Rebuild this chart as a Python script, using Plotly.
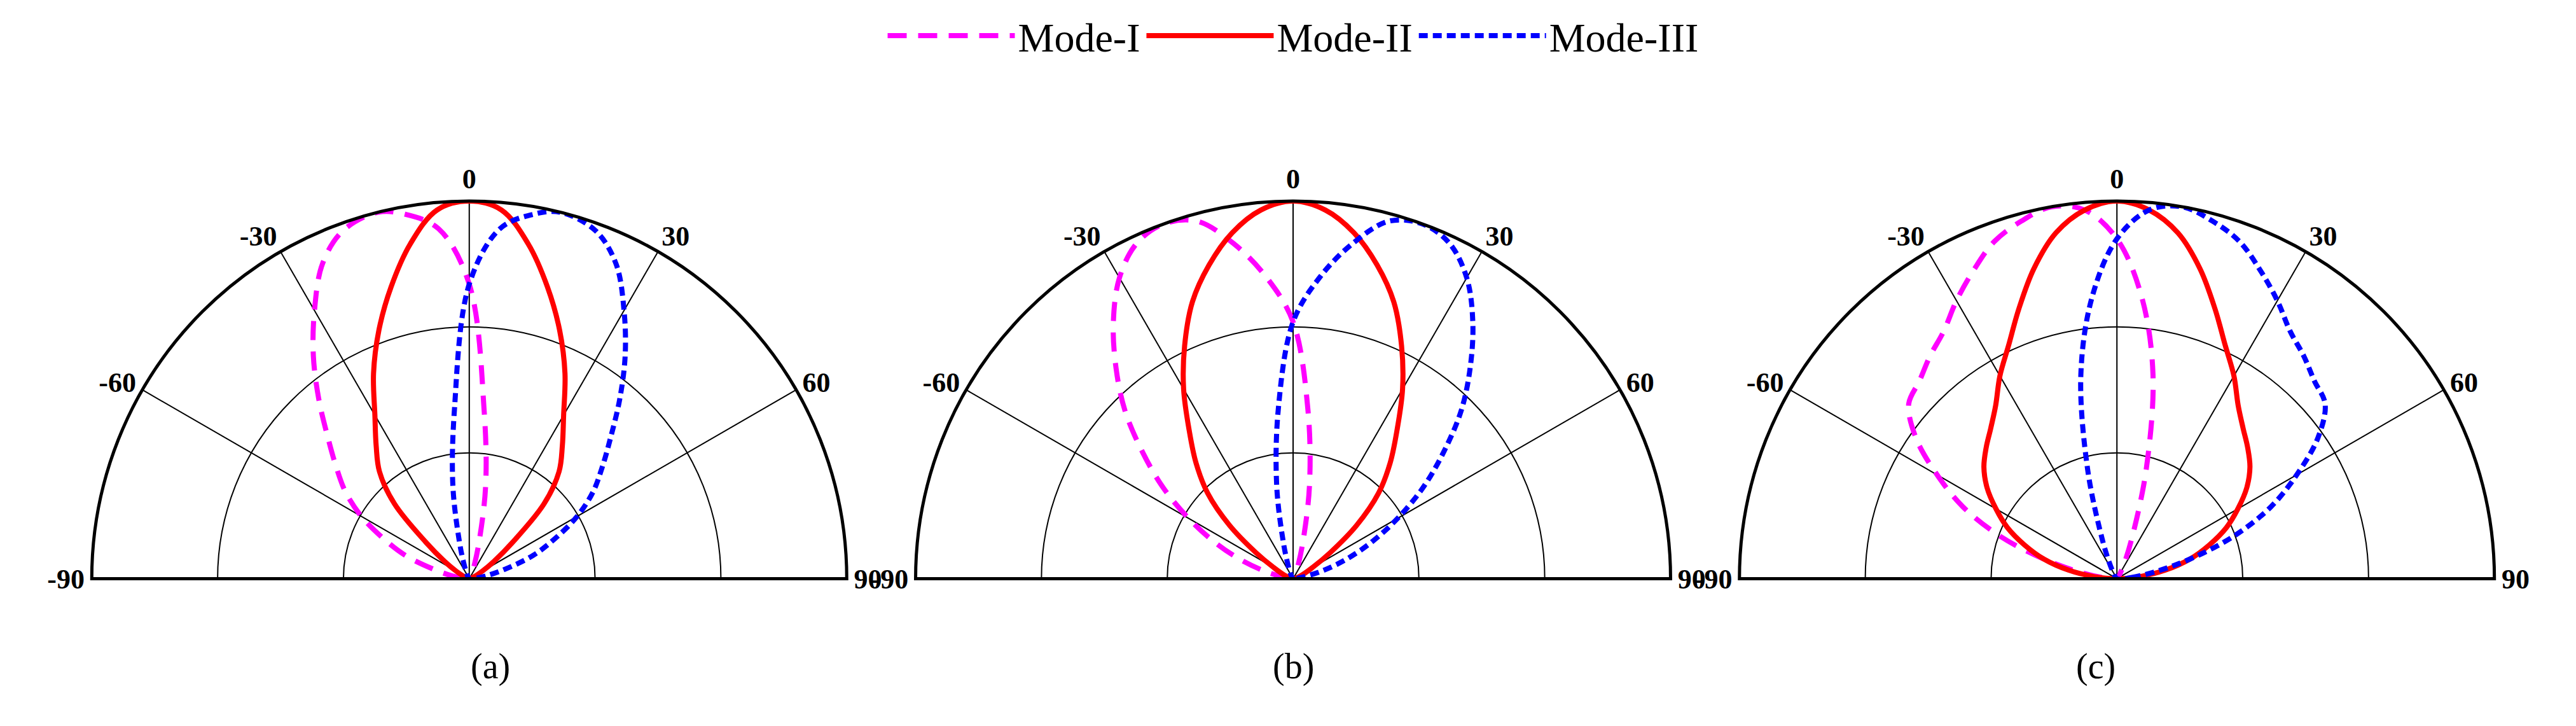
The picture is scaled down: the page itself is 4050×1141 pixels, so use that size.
import plotly.graph_objects as go

# Angles (deg) for each series
ang_a1 = [-85,-80,-75,-70,-65,-60,-55,-50,-45,-40,-35,-30,-25,-20,-14,-10,-5,0,5,10,15,20,30,40]
r_a1   = [0.02,0.05,0.1,0.18,0.25,0.33,0.4,0.46,0.53,0.62,0.72,0.82,0.92,0.98,1.0,0.98,0.93,0.78,0.45,0.25,0.1,0.04,0.01,0.0]
ang_a2 = [-90,-70,-60,-55,-50,-45,-40,-35,-30,-25,-20,-15,-10,-5,0,5,10,15,20,25,30,35,40,45,50,55,60,70,90]
r_a2   = [0.0,0.01,0.04,0.08,0.15,0.28,0.37,0.43,0.5,0.6,0.7,0.8,0.9,0.98,1.0,0.98,0.9,0.8,0.7,0.6,0.5,0.43,0.37,0.28,0.15,0.08,0.04,0.01,0.0]

ang_b1 = [-85,-80,-75,-70,-65,-60,-55,-50,-45,-40,-35,-30,-25,-20,-15,-10,-5,0,5,10,15,20,30,40]
r_b1   = [0.01,0.03,0.08,0.15,0.23,0.32,0.42,0.52,0.63,0.73,0.83,0.92,0.98,1.0,0.98,0.9,0.8,0.68,0.45,0.25,0.1,0.04,0.01,0.0]
ang_b2 = [-90,-70,-60,-55,-50,-45,-40,-35,-30,-25,-20,-15,-10,-5,0,5,10,15,20,25,30,35,40,45,50,55,60,70,90]
r_b2   = [0.0,0.02,0.06,0.12,0.22,0.32,0.4,0.48,0.58,0.68,0.78,0.86,0.93,0.98,1.0,0.98,0.93,0.86,0.78,0.68,0.58,0.48,0.4,0.32,0.22,0.12,0.06,0.02,0.0]

ang_c1 = [-90,-85,-80,-75,-70,-65,-60,-55,-50,-45,-40,-35,-30,-25,-20,-15,-10,-5,0,5,10,15,20,25,30,40]
r_c1   = [0.0,0.04,0.1,0.2,0.33,0.45,0.55,0.65,0.72,0.74,0.77,0.8,0.85,0.9,0.95,0.98,1.0,0.98,0.9,0.75,0.55,0.3,0.12,0.05,0.02,0.0]
ang_c2 = [-90,-85,-80,-75,-70,-65,-60,-55,-50,-45,-40,-35,-30,-25,-20,-15,-10,-5,0,5,10,15,20,25,30,35,40,45,50,55,60,65,70,75,80,85,90]
r_c2   = [0.01,0.06,0.13,0.2,0.26,0.32,0.37,0.42,0.46,0.49,0.52,0.56,0.62,0.68,0.76,0.85,0.93,0.98,1.0,0.98,0.93,0.85,0.76,0.68,0.62,0.56,0.52,0.49,0.46,0.42,0.37,0.32,0.26,0.2,0.13,0.06,0.01]

panels = [("(a)", ang_a1, r_a1, ang_a2, r_a2),
          ("(b)", ang_b1, r_b1, ang_b2, r_b2),
          ("(c)", ang_c1, r_c1, ang_c2, r_c2)]
names = ["Mode-I", "Mode-II", "Mode-III"]
tick_vals = [-90, -60, -30, 0, 30, 60, 90]
tick_text = ["-90", "-60", "-30", "0", "30", "60", "90"]
centers = [0.177, 0.5, 0.823]

fig = go.Figure()
font = "Liberation Serif"
for i, (lab, a1, r1, a2, r2) in enumerate(panels):
    sp = "polar" if i == 0 else f"polar{i+1}"
    a3 = [-a for a in a1]
    fig.add_trace(go.Scatterpolar(theta=a1, r=r1, mode="lines", name=names[0], subplot=sp,
                                  line=dict(color="#ff00ff", width=8, dash="30px,18px", shape="spline"),
                                  showlegend=(i == 0)))
    fig.add_trace(go.Scatterpolar(theta=a2, r=r2, mode="lines", name=names[1], subplot=sp,
                                  line=dict(color="#ff0000", width=8, shape="spline"), showlegend=(i == 0)))
    fig.add_trace(go.Scatterpolar(theta=a3, r=r1, mode="lines", name=names[2], subplot=sp,
                                  line=dict(color="#0000ff", width=8, dash="14px,8px", shape="spline"),
                                  showlegend=(i == 0)))
    c = centers[i]
    fig.layout[sp] = dict(
        domain=dict(x=[c - 0.148, c + 0.148], y=[0.16, 0.78]),
        sector=[0, 180], bgcolor="white",
        angularaxis=dict(rotation=90, direction="clockwise", tickvals=tick_vals, ticktext=tick_text,
                         showgrid=True, gridcolor="black", gridwidth=2, linecolor="black", linewidth=5,
                         ticks="", tickfont=dict(family=font, size=44, color="black", weight="bold")),
        radialaxis=dict(range=[0, 1], tickvals=[1/3, 2/3, 1], showticklabels=False, ticks="",
                        gridcolor="black", gridwidth=2, showline=False),
    )
    fig.add_annotation(text=lab, x=c, y=0.06, xref="paper", yref="paper", showarrow=False,
                       font=dict(family=font, size=56, color="black"))

fig.update_layout(width=4050, height=1141, paper_bgcolor="white", margin=dict(l=20, r=20, t=0, b=0),
                  legend=dict(orientation="h", x=0.5, xanchor="center", y=1.0, yanchor="top",
                              font=dict(family=font, size=64, color="black"), itemwidth=200),
                  )
fig.write_html("out.html")
